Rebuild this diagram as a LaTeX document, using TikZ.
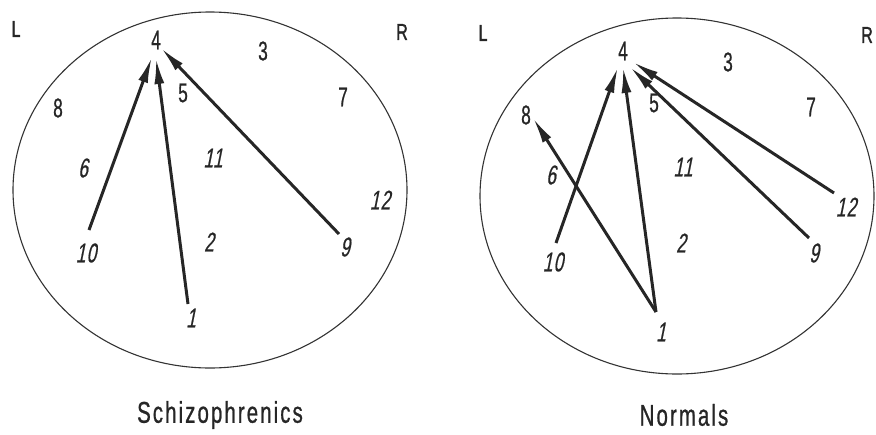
\documentclass[tikz,border=0pt]{standalone}
\usepackage{fontspec}
\setmainfont{Liberation Sans}
\newfontfamily\labup[FakeStretch=0.64,FakeBold=0.6]{Liberation Sans}
\newfontfamily\labit[FakeStretch=0.64,FakeSlant=0.2,FakeBold=0.6,LetterSpace=4]{Liberation Sans}
\newfontfamily\sidefont[FakeStretch=0.7,FakeBold=1.5]{Liberation Sans}
\newfontfamily\titfont[FakeStretch=0.68,FakeBold=0.8,LetterSpace=7]{Liberation Sans}
\usetikzlibrary{arrows.meta}
\begin{document}
\begin{tikzpicture}[x=1pt,y=-1pt,
  up/.style={font=\labup\fontsize{27}{28}\selectfont,inner sep=0pt,text=black!85},
  it/.style={font=\labit\fontsize{27}{28}\selectfont,inner sep=0pt,text=black!85},
  side/.style={font=\sidefont\fontsize{23}{24}\selectfont,inner sep=0pt,text=black!85},
  tit/.style={font=\titfont\fontsize{30}{32}\selectfont,inner sep=0pt,text=black!85},
  ring/.style={draw=black!80,line width=1.1pt},
  link/.style={draw=black!85,line width=3pt,-{Latex[length=26pt,width=10pt]}}]
\useasboundingbox (0,0) rectangle (876,434);
% ---------- left: Schizophrenics ----------
\draw[ring] (210,190) ellipse [x radius=197, y radius=178];
\node[side] (lL) at (16,29) {L};
\node[side] (lR) at (402,32) {R};
\node[up] (a4) at (156,40) {4};
\node[up] (a3) at (263,51) {3};
\node[up] (a5) at (183,93) {5};
\node[up] (a7) at (343,97) {7};
\node[up] (a8) at (58,108) {8};
\node[it] (a6) at (83,168) {6};
\node[it] (a11) at (213,158) {11};
\node[it] (a12) at (380,200) {12};
\node[it] (a10) at (86,253) {10};
\node[it] (a2) at (209,242) {2};
\node[it] (a9) at (345,247) {9};
\node[it] (a1) at (191,318) {1};
\node[tit] (ta) at (220,415) {Schizophrenics};
\coordinate (a10s) at (89,230);
\coordinate (a10t) at (152,57);
\coordinate (a1s) at (188,304);
\coordinate (a1t) at (156,58);
\coordinate (a9s) at (339,234);
\coordinate (a9t) at (161,48);
\draw[link] (a10s) -- (a10t);
\draw[link] (a1s) -- (a1t);
\draw[link] (a9s) -- (a9t);
% ---------- right: Normals ----------
\draw[ring] (677,196) ellipse [x radius=197, y radius=178];
\node[side] (bL) at (483,33) {L};
\node[side] (bR) at (867,35) {R};
\node[up] (b4) at (623,51) {4};
\node[up] (b3) at (728,62) {3};
\node[up] (b5) at (654,103) {5};
\node[up] (b7) at (811,107) {7};
\node[up] (b8) at (526,115) {8};
\node[it] (b6) at (551,175) {6};
\node[it] (b11) at (683,167) {11};
\node[it] (b12) at (846,207) {12};
\node[it] (b10) at (553,262) {10};
\node[it] (b2) at (681,243) {2};
\node[it] (b9) at (814,253) {9};
\node[it] (b1) at (661,332) {1};
\node[tit] (tb) at (684,415) {Normals};
\coordinate (b10s) at (556,243);
\coordinate (b10t) at (618,67);
\coordinate (b1s) at (656,312);
\coordinate (b1t) at (623,67);
\coordinate (b18t) at (533,118);
\coordinate (b9s) at (809,238);
\coordinate (b9t) at (630,67);
\coordinate (b12s) at (834,193);
\coordinate (b12t) at (633,62);
\draw[link] (b10s) -- (b10t);
\draw[link] (b1s) -- (b1t);
\draw[link] (b1s) -- (b18t);
\draw[link] (b9s) -- (b9t);
\draw[link] (b12s) -- (b12t);
\end{tikzpicture}
\end{document}
